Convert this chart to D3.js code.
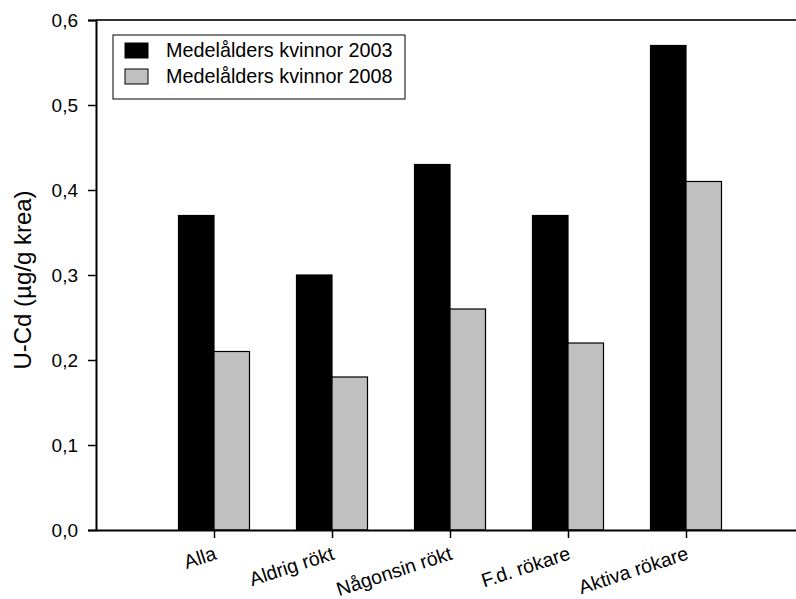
<!DOCTYPE html>
<html><head><meta charset="utf-8">
<script src="https://cdn.jsdelivr.net/npm/d3@7"></script>
<style>body{margin:0;background:#fff}svg{display:block}text{font-family:"Liberation Sans",Arial,sans-serif}</style>
</head><body><svg id="c" width="796" height="599"></svg>
<script>
const categories = ["Alla","Aldrig rökt","Någonsin rökt","F.d. rökare","Aktiva rökare"];
const series2003 = [0.37,0.30,0.43,0.37,0.57];
const series2008 = [0.21,0.18,0.26,0.22,0.41];
const seriesNames = ["Medelålders kvinnor 2003","Medelålders kvinnor 2008"];
const seriesColors = ["#000000","#c0c0c0"];
const yTicks = [0,0.1,0.2,0.3,0.4,0.5,0.6];
const yLabel = "U-Cd (µg/g krea)";

const svg = d3.select("#c");
const x = d3.scaleLinear().domain([0,6]).range([96,804]);
const y = d3.scaleLinear().domain([0,0.6]).range([530,20]);
const bw = 35.5;
const fmt = d => d.toFixed(1).replace(".",",");

const data = [series2003, series2008];
data.forEach((s,si)=>{
  svg.append("g").selectAll("rect").data(s).join("rect")
    .attr("x",(d,i)=>x(i+1)+(si===0?-bw:0))
    .attr("y",d=>y(d))
    .attr("width",bw)
    .attr("height",d=>y(0)-y(d))
    .attr("fill",seriesColors[si])
    .attr("stroke","#000").attr("stroke-width",1.2);
});

// top frame line
svg.append("line").attr("x1",96).attr("x2",796).attr("y1",y(0.6)).attr("y2",y(0.6))
  .attr("stroke","#333").attr("stroke-width",2);

const ya = svg.append("g").attr("transform","translate(96,0)")
  .call(d3.axisLeft(y).tickValues(yTicks).tickFormat(fmt).tickSize(8).tickPadding(10));
ya.select(".domain").attr("stroke","#000").attr("stroke-width",2);
ya.selectAll(".tick line").attr("stroke","#000").attr("stroke-width",1.5);
ya.selectAll("text").attr("font-size",19).attr("font-family","Liberation Sans, Arial").attr("fill","#000");

const xa = svg.append("g").attr("transform","translate(0,530)")
  .call(d3.axisBottom(x).tickValues([1,2,3,4,5]).tickFormat(d=>categories[d-1]).tickSize(8).tickSizeOuter(0));
xa.select(".domain").attr("stroke","#000").attr("stroke-width",2);
xa.selectAll(".tick line").attr("stroke","#000").attr("stroke-width",1.5);
xa.selectAll("text").attr("font-size",19.5).attr("font-family","Liberation Sans, Arial").attr("fill","#000")
  .attr("text-anchor","end").attr("dy",0).attr("y",0)
  .attr("transform","translate(3,29) rotate(-18)");

svg.append("text").attr("transform","translate(31,280) rotate(-90)")
  .attr("text-anchor","middle").attr("font-size",24).text(yLabel);

// legend
const lg = svg.append("g");
lg.append("rect").attr("x",113).attr("y",35).attr("width",292).attr("height",64)
  .attr("fill","#fff").attr("stroke","#000").attr("stroke-width",1);
seriesNames.forEach((n,i)=>{
  lg.append("rect").attr("x",125).attr("y",43+i*26).attr("width",23).attr("height",15)
    .attr("fill",seriesColors[i]).attr("stroke","#000").attr("stroke-width",1);
  lg.append("text").attr("x",166).attr("y",57+i*26).attr("font-size",19.8).text(n);
});
</script></body></html>
